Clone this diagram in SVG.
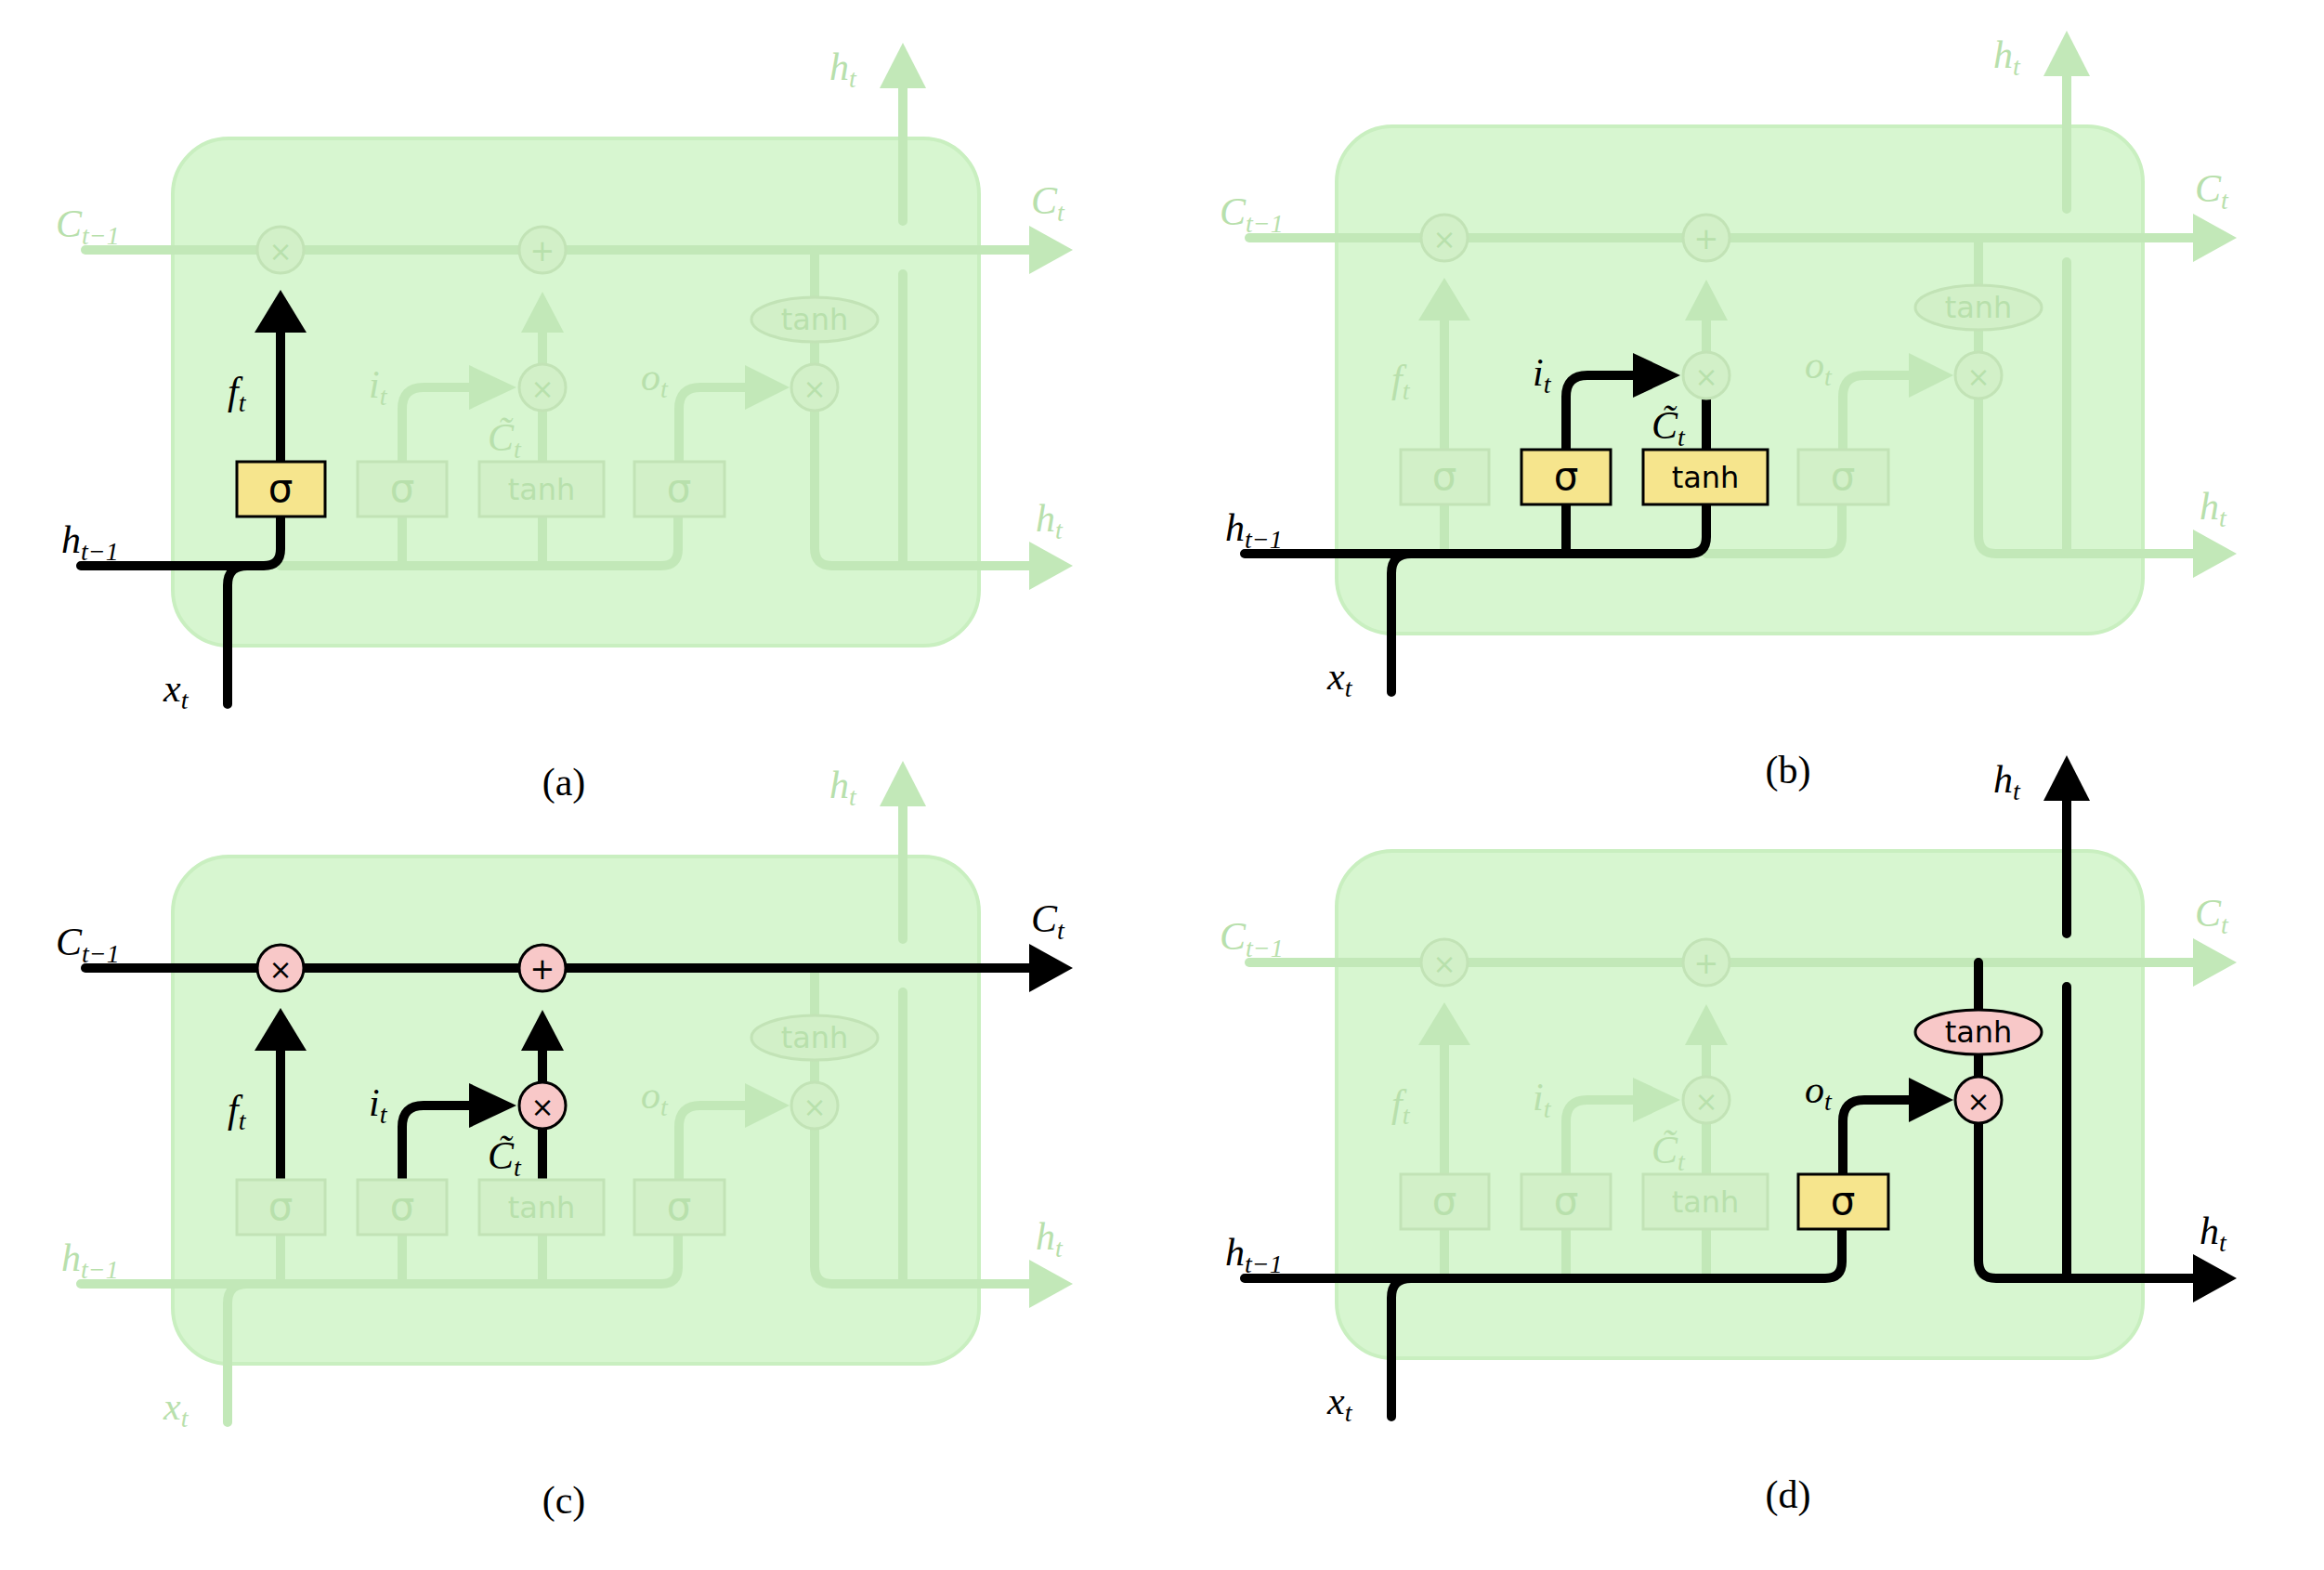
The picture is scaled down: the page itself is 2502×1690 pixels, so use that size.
<svg xmlns="http://www.w3.org/2000/svg" width="2502" height="1690" viewBox="0 0 2502 1690">
<style>
.bg{fill:#fff}
.box{fill:#d7f6d0;stroke:#c9efc0;stroke-width:4}
.fl{stroke:#c2e8b8;stroke-width:10;fill:none;stroke-linecap:round}
.bl{stroke:#000;stroke-width:10;fill:none;stroke-linecap:round}
.fh{fill:#c2e8b8}
.bh{fill:#000}
.fg{fill:#d2f0c8;stroke:#c2e3b6;stroke-width:3}
.yg{fill:#f6e58d;stroke:#000;stroke-width:3}
.pg{fill:#f8c8c8;stroke:#000;stroke-width:3}
.lbl{font-family:"Liberation Serif",serif;font-style:italic;font-size:42px}
.sub{font-size:28px}
.op{font-family:"DejaVu Sans",sans-serif;text-anchor:middle}
.ft{fill:#b8e0ac}
.bt{fill:#000}
.cap{font-family:"Liberation Serif",serif;font-size:42px;text-anchor:middle;fill:#000}
</style>
<rect class="bg" width="2502" height="1690"/>

<!-- Panel (a) -->
<g id="panel-a">
<rect class="box" x="186" y="149" width="868" height="546" rx="60"/>
<g id="conn-a">
<path class="fl" d="M92 269 H1110"/><polygon class="fh" points="1108,243 1155,269 1108,295"/>
<path class="fl" d="M302 609 H712 Q730 609 730 591 V556 M433 609 V556 M584 609 V556"/>
<path class="fl" d="M433 497 V440 Q433 417 456 417 H505"/><polygon class="fh" points="505,393 556,417 505,441"/>
<path class="fl" d="M584 497 V442 M584 392 V356"/><polygon class="fh" points="561,358 607,358 584,314"/>
<path class="fl" d="M731 497 V440 Q731 417 754 417 H802"/><polygon class="fh" points="802,393 850,417 802,441"/>
<path class="fl" d="M877 269 V320 M877 368 V392 M877 442 V590 Q877 609 896 609 H1108"/><polygon class="fh" points="1108,583 1155,609 1108,635"/>
<path class="fl" d="M972 609 V295 M972 238 V93"/><polygon class="fh" points="947,95 972,46 997,95"/>
<path class="bl" d="M87 609 H284 Q302 609 302 591 V556 M245 758 V630 Q245 609 266 609"/>
<path class="bl" d="M302 497 V356"/><polygon class="bh" points="274,358 330,358 302,312"/>
</g>
<g id="nodes-a">
<circle class="fg" cx="302" cy="269" r="25"/><text class="op ft" x="302" y="281" font-size="30">×</text>
<circle class="fg" cx="584" cy="269" r="25"/><text class="op ft" x="584" y="281" font-size="32">+</text>
<circle class="fg" cx="584" cy="417" r="25"/><text class="op ft" x="584" y="429" font-size="30">×</text>
<circle class="fg" cx="877" cy="417" r="25"/><text class="op ft" x="877" y="429" font-size="30">×</text>
<ellipse class="fg" cx="877" cy="344" rx="68" ry="24"/><text class="op ft" x="877" y="355" font-size="32">tanh</text>
<rect class="yg" x="255" y="497" width="95" height="59"/><text class="op bt" x="302" y="540" font-size="42">σ</text>
<rect class="fg" x="385" y="497" width="96" height="59"/><text class="op ft" x="433" y="540" font-size="42">σ</text>
<rect class="fg" x="516" y="497" width="134" height="59"/><text class="op ft" x="583" y="538" font-size="32">tanh</text>
<rect class="fg" x="683" y="497" width="97" height="59"/><text class="op ft" x="731" y="540" font-size="42">σ</text>
</g>
<g id="labels-a">
<text class="lbl ft" x="60" y="255">C<tspan class="sub" dy="8">t−1</tspan></text>
<text class="lbl ft" x="1110" y="230">C<tspan class="sub" dy="8">t</tspan></text>
<text class="lbl ft" x="893" y="86">h<tspan class="sub" dy="8">t</tspan></text>
<text class="lbl ft" x="1115" y="572">h<tspan class="sub" dy="8">t</tspan></text>
<text class="lbl bt" x="66" y="595">h<tspan class="sub" dy="8">t−1</tspan></text>
<text class="lbl bt" x="176" y="755">x<tspan class="sub" dy="8">t</tspan></text>
<text class="lbl bt" x="245" y="435">f<tspan class="sub" dy="8">t</tspan></text>
<text class="lbl ft" x="397" y="428">i<tspan class="sub" dy="8">t</tspan></text>
<text class="lbl ft" x="690" y="420">o<tspan class="sub" dy="8">t</tspan></text>
<text class="lbl ft" x="525" y="485">C̃<tspan class="sub" dy="8">t</tspan></text>
</g>
<text class="cap" x="607" y="856">(a)</text>
</g>

<!-- Panel (b) -->
<g id="panel-b" transform="translate(1253,-13)">
<rect class="box" x="186" y="149" width="868" height="546" rx="60"/>
<g id="conn-b">
<path class="fl" d="M92 269 H1110"/><polygon class="fh" points="1108,243 1155,269 1108,295"/>
<path class="fl" d="M584 609 H712 Q730 609 730 591 V556 M302 609 V556"/>
<path class="fl" d="M302 497 V356"/><polygon class="fh" points="274,358 330,358 302,312"/>
<path class="fl" d="M584 392 V356"/><polygon class="fh" points="561,358 607,358 584,314"/>
<path class="fl" d="M731 497 V440 Q731 417 754 417 H802"/><polygon class="fh" points="802,393 850,417 802,441"/>
<path class="fl" d="M877 269 V320 M877 368 V392 M877 442 V590 Q877 609 896 609 H1108"/><polygon class="fh" points="1108,583 1155,609 1108,635"/>
<path class="fl" d="M972 609 V295 M972 238 V93"/><polygon class="fh" points="947,95 972,46 997,95"/>
<path class="bl" d="M87 609 H566 Q584 609 584 591 V556 M433 609 V556 M245 758 V630 Q245 609 266 609"/>
<path class="bl" d="M433 497 V440 Q433 417 456 417 H505"/><polygon class="bh" points="505,393 556,417 505,441"/>
<path class="bl" d="M584 497 V435"/>
</g>
<g id="nodes-b">
<circle class="fg" cx="302" cy="269" r="25"/><text class="op ft" x="302" y="281" font-size="30">×</text>
<circle class="fg" cx="584" cy="269" r="25"/><text class="op ft" x="584" y="281" font-size="32">+</text>
<circle class="fg" cx="584" cy="417" r="25"/><text class="op ft" x="584" y="429" font-size="30">×</text>
<circle class="fg" cx="877" cy="417" r="25"/><text class="op ft" x="877" y="429" font-size="30">×</text>
<ellipse class="fg" cx="877" cy="344" rx="68" ry="24"/><text class="op ft" x="877" y="355" font-size="32">tanh</text>
<rect class="fg" x="255" y="497" width="95" height="59"/><text class="op ft" x="302" y="540" font-size="42">σ</text>
<rect class="yg" x="385" y="497" width="96" height="59"/><text class="op bt" x="433" y="540" font-size="42">σ</text>
<rect class="yg" x="516" y="497" width="134" height="59"/><text class="op bt" x="583" y="538" font-size="32">tanh</text>
<rect class="fg" x="683" y="497" width="97" height="59"/><text class="op ft" x="731" y="540" font-size="42">σ</text>
</g>
<g id="labels-b">
<text class="lbl ft" x="60" y="255">C<tspan class="sub" dy="8">t−1</tspan></text>
<text class="lbl ft" x="1110" y="230">C<tspan class="sub" dy="8">t</tspan></text>
<text class="lbl ft" x="893" y="86">h<tspan class="sub" dy="8">t</tspan></text>
<text class="lbl ft" x="1115" y="572">h<tspan class="sub" dy="8">t</tspan></text>
<text class="lbl bt" x="66" y="595">h<tspan class="sub" dy="8">t−1</tspan></text>
<text class="lbl bt" x="176" y="755">x<tspan class="sub" dy="8">t</tspan></text>
<text class="lbl ft" x="245" y="435">f<tspan class="sub" dy="8">t</tspan></text>
<text class="lbl bt" x="397" y="428">i<tspan class="sub" dy="8">t</tspan></text>
<text class="lbl ft" x="690" y="420">o<tspan class="sub" dy="8">t</tspan></text>
<text class="lbl bt" x="525" y="485">C̃<tspan class="sub" dy="8">t</tspan></text>
</g>
<text class="cap" x="672" y="856">(b)</text>
</g>

<!-- Panel (c) -->
<g id="panel-c" transform="translate(0,773)">
<rect class="box" x="186" y="149" width="868" height="546" rx="60"/>
<g id="conn-c">
<path class="fl" d="M87 609 H712 Q730 609 730 591 V556 M302 609 V556 M433 609 V556 M584 609 V556 M245 758 V630 Q245 609 266 609"/>
<path class="fl" d="M731 497 V440 Q731 417 754 417 H802"/><polygon class="fh" points="802,393 850,417 802,441"/>
<path class="fl" d="M877 269 V320 M877 368 V392 M877 442 V590 Q877 609 896 609 H1108"/><polygon class="fh" points="1108,583 1155,609 1108,635"/>
<path class="fl" d="M972 609 V295 M972 238 V93"/><polygon class="fh" points="947,95 972,46 997,95"/>
<path class="bl" d="M92 269 H1110"/><polygon class="bh" points="1108,243 1155,269 1108,295"/>
<path class="bl" d="M302 497 V356"/><polygon class="bh" points="274,358 330,358 302,312"/>
<path class="bl" d="M433 497 V440 Q433 417 456 417 H505"/><polygon class="bh" points="505,393 556,417 505,441"/>
<path class="bl" d="M584 497 V442 M584 392 V356"/><polygon class="bh" points="561,358 607,358 584,314"/>
</g>
<g id="nodes-c">
<circle class="pg" cx="302" cy="269" r="25"/><text class="op bt" x="302" y="281" font-size="30">×</text>
<circle class="pg" cx="584" cy="269" r="25"/><text class="op bt" x="584" y="281" font-size="32">+</text>
<circle class="pg" cx="584" cy="417" r="25"/><text class="op bt" x="584" y="429" font-size="30">×</text>
<circle class="fg" cx="877" cy="417" r="25"/><text class="op ft" x="877" y="429" font-size="30">×</text>
<ellipse class="fg" cx="877" cy="344" rx="68" ry="24"/><text class="op ft" x="877" y="355" font-size="32">tanh</text>
<rect class="fg" x="255" y="497" width="95" height="59"/><text class="op ft" x="302" y="540" font-size="42">σ</text>
<rect class="fg" x="385" y="497" width="96" height="59"/><text class="op ft" x="433" y="540" font-size="42">σ</text>
<rect class="fg" x="516" y="497" width="134" height="59"/><text class="op ft" x="583" y="538" font-size="32">tanh</text>
<rect class="fg" x="683" y="497" width="97" height="59"/><text class="op ft" x="731" y="540" font-size="42">σ</text>
</g>
<g id="labels-c">
<text class="lbl bt" x="60" y="255">C<tspan class="sub" dy="8">t−1</tspan></text>
<text class="lbl bt" x="1110" y="230">C<tspan class="sub" dy="8">t</tspan></text>
<text class="lbl ft" x="893" y="86">h<tspan class="sub" dy="8">t</tspan></text>
<text class="lbl ft" x="1115" y="572">h<tspan class="sub" dy="8">t</tspan></text>
<text class="lbl ft" x="66" y="595">h<tspan class="sub" dy="8">t−1</tspan></text>
<text class="lbl ft" x="176" y="755">x<tspan class="sub" dy="8">t</tspan></text>
<text class="lbl bt" x="245" y="435">f<tspan class="sub" dy="8">t</tspan></text>
<text class="lbl bt" x="397" y="428">i<tspan class="sub" dy="8">t</tspan></text>
<text class="lbl ft" x="690" y="420">o<tspan class="sub" dy="8">t</tspan></text>
<text class="lbl bt" x="525" y="485">C̃<tspan class="sub" dy="8">t</tspan></text>
</g>
<text class="cap" x="607" y="856">(c)</text>
</g>

<!-- Panel (d) -->
<g id="panel-d" transform="translate(1253,767)">
<rect class="box" x="186" y="149" width="868" height="546" rx="60"/>
<g id="conn-d">
<path class="fl" d="M92 269 H1110"/><polygon class="fh" points="1108,243 1155,269 1108,295"/>
<path class="fl" d="M302 609 V556 M433 609 V556 M584 609 V556"/>
<path class="fl" d="M302 497 V356"/><polygon class="fh" points="274,358 330,358 302,312"/>
<path class="fl" d="M433 497 V440 Q433 417 456 417 H505"/><polygon class="fh" points="505,393 556,417 505,441"/>
<path class="fl" d="M584 497 V442 M584 392 V356"/><polygon class="fh" points="561,358 607,358 584,314"/>
<path class="bl" d="M87 609 H712 Q730 609 730 591 V556 M245 758 V630 Q245 609 266 609"/>
<path class="bl" d="M731 497 V440 Q731 417 754 417 H802"/><polygon class="bh" points="802,393 850,417 802,441"/>
<path class="bl" d="M877 269 V320 M877 368 V392 M877 442 V590 Q877 609 896 609 H1108"/><polygon class="bh" points="1108,583 1155,609 1108,635"/>
<path class="bl" d="M972 609 V295 M972 238 V93"/><polygon class="bh" points="947,95 972,46 997,95"/>
</g>
<g id="nodes-d">
<circle class="fg" cx="302" cy="269" r="25"/><text class="op ft" x="302" y="281" font-size="30">×</text>
<circle class="fg" cx="584" cy="269" r="25"/><text class="op ft" x="584" y="281" font-size="32">+</text>
<circle class="fg" cx="584" cy="417" r="25"/><text class="op ft" x="584" y="429" font-size="30">×</text>
<circle class="pg" cx="877" cy="417" r="25"/><text class="op bt" x="877" y="429" font-size="30">×</text>
<ellipse class="pg" cx="877" cy="344" rx="68" ry="24"/><text class="op bt" x="877" y="355" font-size="32">tanh</text>
<rect class="fg" x="255" y="497" width="95" height="59"/><text class="op ft" x="302" y="540" font-size="42">σ</text>
<rect class="fg" x="385" y="497" width="96" height="59"/><text class="op ft" x="433" y="540" font-size="42">σ</text>
<rect class="fg" x="516" y="497" width="134" height="59"/><text class="op ft" x="583" y="538" font-size="32">tanh</text>
<rect class="yg" x="683" y="497" width="97" height="59"/><text class="op bt" x="731" y="540" font-size="42">σ</text>
</g>
<g id="labels-d">
<text class="lbl ft" x="60" y="255">C<tspan class="sub" dy="8">t−1</tspan></text>
<text class="lbl ft" x="1110" y="230">C<tspan class="sub" dy="8">t</tspan></text>
<text class="lbl bt" x="893" y="86">h<tspan class="sub" dy="8">t</tspan></text>
<text class="lbl bt" x="1115" y="572">h<tspan class="sub" dy="8">t</tspan></text>
<text class="lbl bt" x="66" y="595">h<tspan class="sub" dy="8">t−1</tspan></text>
<text class="lbl bt" x="176" y="755">x<tspan class="sub" dy="8">t</tspan></text>
<text class="lbl ft" x="245" y="435">f<tspan class="sub" dy="8">t</tspan></text>
<text class="lbl ft" x="397" y="428">i<tspan class="sub" dy="8">t</tspan></text>
<text class="lbl bt" x="690" y="420">o<tspan class="sub" dy="8">t</tspan></text>
<text class="lbl ft" x="525" y="485">C̃<tspan class="sub" dy="8">t</tspan></text>
</g>
<text class="cap" x="672" y="856">(d)</text>
</g>
</svg>
